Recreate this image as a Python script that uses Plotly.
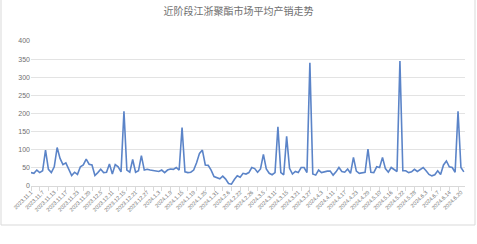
import plotly.graph_objects as go

title_text = "近阶段江浙聚酯市场平均产销走势"

tick_labels = [
    "2023.11.1", "2023.11.7", "2023.11.13", "2023.11.17", "2023.11.23", "2023.11.29",
    "2023.12.5", "2023.12.11", "2023.12.15", "2023.12.21", "2023.12.27",
    "2024.1.3", "2024.1.9", "2024.1.15", "2024.1.19", "2024.1.25", "2024.1.31",
    "2024.2.6", "2024.2.22", "2024.2.26", "2024.3.5", "2024.3.11", "2024.3.15",
    "2024.3.21", "2024.3.27", "2024.4.3", "2024.4.11", "2024.4.17", "2024.4.23",
    "2024.4.29", "2024.5.10", "2024.5.16", "2024.5.22", "2024.5.28", "2024.6.3",
    "2024.6.7", "2024.6.14", "2024.6.20",
]

values = [
    37, 35, 44, 37, 42, 99, 46, 37, 53, 106,
    76, 59, 64, 48, 29, 38, 32, 53, 58, 74,
    60, 58, 29, 37, 46, 37, 38, 61, 33, 59,
    53, 39, 206, 44, 38, 73, 38, 42, 84, 44,
    46, 44, 42, 40, 40, 44, 37, 44, 47, 46,
    51, 44, 161, 39, 37, 38, 44, 64, 90, 99,
    58, 57, 44, 26, 22, 20, 27, 19, 7, 5,
    18, 28, 24, 35, 33, 37, 51, 48, 38, 47,
    87, 47, 35, 31, 37, 163, 37, 31, 137, 49,
    33, 40, 37, 51, 51, 37, 340, 33, 30, 44,
    37, 40, 41, 41, 30, 39, 51, 40, 38, 47,
    35, 79, 41, 35, 37, 38, 102, 38, 37, 53,
    51, 79, 48, 38, 51, 46, 40, 345, 42, 42,
    37, 39, 46, 40, 45, 51, 42, 32, 28, 31,
    42, 32, 58, 69, 53, 51, 38, 206, 51, 39,
]

label_step = 4
x_idx = list(range(len(values)))
tick_vals = [i * label_step for i in range(len(tick_labels))]

fig = go.Figure()
fig.add_trace(go.Scatter(
    x=x_idx, y=values, mode="lines",
    line=dict(color="#5b84c8", width=1.6),
    hoverinfo="skip",
))

W, H = 477, 244
L, R, T, B = 31, 12, 41, 58
pw, ph = W - L - R, H - T - B

fig.update_layout(
    width=W, height=H,
    margin=dict(l=L, r=R, t=T, b=B),
    paper_bgcolor="white", plot_bgcolor="white",
    showlegend=False,
    title=dict(text=title_text, x=0.5, xanchor="center", y=1 - 11 / H, yanchor="middle",
               font=dict(family="Noto Sans CJK SC", size=10, color="#707070")),
    xaxis=dict(
        range=[0, len(values) - 0.6],
        tickmode="array", tickvals=tick_vals, ticktext=tick_labels,
        tickangle=-45, ticks="",
        tickfont=dict(family="Liberation Sans Narrow, Liberation Sans", size=5.5, color="#707070"),
        showgrid=False, zeroline=False,
        showline=True, linecolor="#d9d9d9", linewidth=1,
        minor=dict(ticks="outside", tickmode="linear", tick0=0, dtick=3,
                   ticklen=4, tickcolor="#d9d9d9", showgrid=False),
    ),
    yaxis=dict(
        range=[0, 400], dtick=50, tick0=0,
        showgrid=True, gridcolor="#e3e3e3", gridwidth=1,
        zeroline=False, showline=False, ticks="",
        tickfont=dict(family="Liberation Sans", size=7, color="#707070"),
    ),
    shapes=[dict(
        type="rect", xref="paper", yref="paper",
        x0=(1 - L) / pw, x1=(W - 2 - L) / pw,
        y0=(H - T - (H - 2)) / ph, y1=(H - T - 1) / ph,
        line=dict(color="#d9d9d9", width=1), layer="below",
    )],
)

fig.write_html("out.html")
